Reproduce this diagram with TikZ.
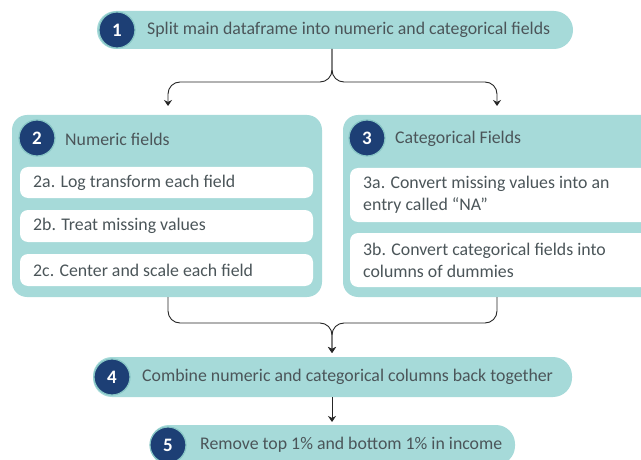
\documentclass[tikz,border=0pt]{standalone}
\usepackage{fontspec}
\setmainfont{Carlito}
\usetikzlibrary{arrows.meta}
\definecolor{teal1}{HTML}{A6DAD9}
\definecolor{navy}{HTML}{1D3F75}
\definecolor{txt}{HTML}{4B5559}
\definecolor{ring}{HTML}{86C4C4}
\tikzset{
  pill/.style={fill=teal1, rounded corners=19pt},
  panel/.style={fill=teal1, rounded corners=15pt},
  inbox/.style={fill=white, rounded corners=8pt},
  num/.style={circle, fill=navy, draw=ring, line width=1.2pt, minimum size=36pt, inner sep=0pt, text=white, font=\fontsize{19}{19}\selectfont\bfseries},
  lbl/.style={anchor=west, text=txt, inner sep=0pt, font=\fontsize{17.8}{22}\selectfont},
  conn/.style={draw=black!85, line width=0.9pt, rounded corners=12pt},
  arr/.style={-{Stealth[length=6pt,width=8pt]}}
}
\begin{document}
\begin{tikzpicture}[x=1pt,y=-1pt]
\useasboundingbox (0,0) rectangle (641,460);
% pills and panels
\path[pill] (97,11) rectangle (573,49);
\coordinate (p1b) at (332,49);
\path[panel] (12,115) rectangle (322,297);
\path[panel] (343,115) rectangle (660,297);
\path[pill] (93,357) rectangle (572,397);
\path[pill] (150,425) rectangle (515,465);
% inner boxes
\path[inbox] (20,167) rectangle (313,198);
\path[inbox] (20,210) rectangle (313,242);
\path[inbox] (20,254) rectangle (313,286);
\path[inbox] (350,168) rectangle (650,222);
\path[inbox] (350,233) rectangle (650,287);
% numbers
\node[num] (n1) at (117,30) {1};
\node[num] (n2) at (37,138) {2};
\node[num] (n3) at (367,138) {3};
\node[num] (n4) at (112,377) {4};
\node[num] (n5) at (168,445) {5};
% texts
\node[lbl] (t1) at (147,30) {Split main dataframe into numeric and categorical fields};
\node[lbl] (t2) at (65,139) {Numeric fields};
\node[lbl] (t3) at (395,139) {Categorical Fields};
\node[lbl] (t2a) at (33,183) {2a. Log transform each field};
\node[lbl] (t2b) at (33,226) {2b. Treat missing values};
\node[lbl] (t2c) at (33,270) {2c. Center and scale each field};
\node[lbl, align=left] (t3a) at (363,195) {3a. Convert missing values into an\\entry called “NA”};
\node[lbl, align=left] (t3b) at (363,260) {3b. Convert categorical fields into\\columns of dummies};
\node[lbl] (t4) at (142,377) {Combine numeric and categorical columns back together};
\node[lbl] (t5) at (200,445) {Remove top 1\% and bottom 1\% in income};
% connectors
\coordinate (a2) at (168,106);
\coordinate (a3) at (497,106);
\coordinate (b2) at (168,297);
\coordinate (b3) at (497,297);
\coordinate (a4) at (332,353);
\coordinate (p4b) at (332,397);
\coordinate (a5) at (332,422);
\draw[conn, arr] (p1b) -- (332,82) -- (168,82) -- (a2);
\draw[conn, arr] (p1b) -- (332,82) -- (497,82) -- (a3);
\draw[conn, arr] (b2) -- (168,323) -- (332,323) -- (a4);
\draw[conn, arr] (b3) -- (497,323) -- (332,323) -- (a4);
\draw[conn, arr] (p4b) -- (a5);
\end{tikzpicture}
\end{document}
